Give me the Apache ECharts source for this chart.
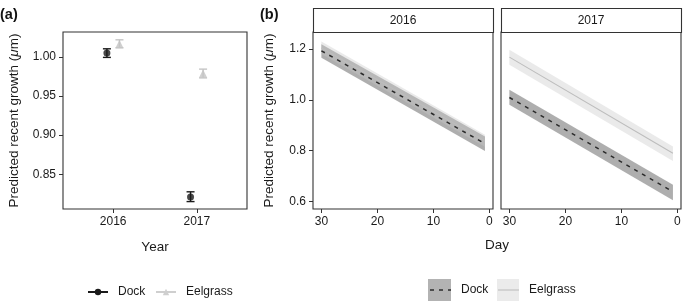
<!DOCTYPE html>
<html><head><meta charset="utf-8">
<script src="https://cdn.jsdelivr.net/npm/echarts@6/dist/echarts.min.js"></script>
<style>html,body{margin:0;padding:0;background:#fff}#c{width:685px;height:302px}</style>
</head><body><div id="c"></div>
<script>
// ---- Panel (a) data ----
const years = [2016, 2017];
const dockMean = [1.005, 0.821];
const dockLo = [0.9995, 0.8150];
const dockHi = [1.0105, 0.8275];
const eelMean = [1.0167, 0.979];
const eelLo = [1.0117, 0.9733];
const eelHi = [1.0220, 0.9845];
const yTicksA = [0.85, 0.90, 0.95, 1.00];
const xTicksA = [2016, 2017];

// ---- Panel (b) data ----
const days = [30, 0.8];
const dock2016 = [1.193, 0.827];
const dock2016Lo = [1.166, 0.798];
const dock2016Hi = [1.219, 0.855];
const eel2016 = [1.204, 0.838];
const eel2016Lo = [1.180, 0.815];
const eel2016Hi = [1.230, 0.862];
const dock2017 = [1.009, 0.638];
const dock2017Lo = [0.980, 0.604];
const dock2017Hi = [1.039, 0.665];
const eel2017 = [1.168, 0.789];
const eel2017Lo = [1.138, 0.759];
const eel2017Hi = [1.197, 0.816];
const yTicksB = [0.6, 0.8, 1.0, 1.2];
const xTicksB = [0, 10, 20, 30];
const strips = ['2016', '2017'];

const DODGE = 0.075;
const FONT = 'Liberation Sans, Arial, sans-serif';
const TXT = '#1a1a1a';
const DOCK_C = '#1a1a1a';
const EEL_C = '#c4c4c4';

const chart = echarts.init(document.getElementById('c'), null, {renderer: 'canvas'});

function errBar(color) {
  return function (params, api) {
    const x = api.value(0), lo = api.value(1), hi = api.value(2);
    const pHi = api.coord([x, hi]);
    const pLo = api.coord([x, lo]);
    const w = 4;
    const st = {stroke: color, lineWidth: 1.4};
    return {type: 'group', children: [
      {type: 'line', shape: {x1: pHi[0], y1: pHi[1], x2: pLo[0], y2: pLo[1]}, style: st},
      {type: 'line', shape: {x1: pHi[0] - w, y1: pHi[1], x2: pHi[0] + w, y2: pHi[1]}, style: st},
      {type: 'line', shape: {x1: pLo[0] - w, y1: pLo[1], x2: pLo[0] + w, y2: pLo[1]}, style: st}
    ]};
  };
}

const gridBox = {show: true, borderColor: '#333', borderWidth: 1.1, backgroundColor: '#fff'};
const tickStyle = {show: true, length: 4, lineStyle: {color: '#333', width: 1}};
const labStyle = {color: TXT, fontSize: 12, fontFamily: FONT};
const noLine = {show: false, onZero: false};
const ytitle = {
  name: 'Predicted recent growth ({i|μ}m)',
  nameLocation: 'middle',
  nameRotate: 90,
  nameTextStyle: {color: TXT, fontSize: 13.5, fontFamily: FONT,
    rich: {i: {fontStyle: 'italic', fontSize: 13.5, fontFamily: FONT, color: TXT}}}
};

function bandSeries(idx, lo, hi, color, z) {
  const data = days.map((d, i) => [d, lo[i], hi[i]]);
  return {
    type: 'custom', xAxisIndex: idx, yAxisIndex: idx, silent: true, z: z, clip: true,
    data: data,
    renderItem: function (params, api) {
      if (params.dataIndex !== 0) return {type: 'group', children: []};
      const pts = [];
      data.forEach(r => pts.push(api.coord([r[0], r[2]])));
      data.slice().reverse().forEach(r => pts.push(api.coord([r[0], r[1]])));
      return {type: 'polygon', shape: {points: pts}, style: {fill: color}};
    }
  };
}

const DOCK_BAND = 'rgba(100,100,100,0.52)';
const EEL_BAND = 'rgba(200,200,200,0.38)';

const series = [
  // panel a
  {type: 'custom', name: 'dockErr', xAxisIndex: 0, yAxisIndex: 0, renderItem: errBar(DOCK_C),
   data: years.map((y, i) => [y - DODGE, dockLo[i], dockHi[i]]), z: 3},
  {type: 'custom', name: 'eelErr', xAxisIndex: 0, yAxisIndex: 0, renderItem: errBar(EEL_C),
   data: years.map((y, i) => [y + DODGE, eelLo[i], eelHi[i]]), z: 3},
  {type: 'scatter', name: 'dockPts', xAxisIndex: 0, yAxisIndex: 0, symbol: 'circle', symbolSize: 7,
   itemStyle: {color: DOCK_C}, data: years.map((y, i) => [y - DODGE, dockMean[i]]), z: 4},
  {type: 'scatter', name: 'eelPts', xAxisIndex: 0, yAxisIndex: 0, symbol: 'triangle', symbolSize: 8,
   itemStyle: {color: EEL_C}, data: years.map((y, i) => [y + DODGE, eelMean[i]]), z: 4},
  // legend-only series for panel a
  {type: 'line', name: 'Dock', xAxisIndex: 0, yAxisIndex: 0, data: [], symbol: 'circle', symbolSize: 6,
   itemStyle: {color: DOCK_C}, lineStyle: {color: DOCK_C, width: 1.6}},
  {type: 'line', name: 'Eelgrass', xAxisIndex: 0, yAxisIndex: 0, data: [], symbol: 'triangle', symbolSize: 6,
   itemStyle: {color: '#cfcfcf'}, lineStyle: {color: '#cfcfcf', width: 1.6}},
  // panel b bands
  bandSeries(1, dock2016Lo, dock2016Hi, DOCK_BAND, 2),
  bandSeries(1, eel2016Lo, eel2016Hi, EEL_BAND, 3),
  bandSeries(2, dock2017Lo, dock2017Hi, DOCK_BAND, 2),
  bandSeries(2, eel2017Lo, eel2017Hi, EEL_BAND, 3),
  // panel b lines
  {type: 'line', name: 'Eelgrass (b)', xAxisIndex: 1, yAxisIndex: 1, symbol: 'none', z: 5,
   lineStyle: {color: '#bdbdbd', width: 1.1}, itemStyle: {color: '#bdbdbd'},
   data: days.map((d, i) => [d, eel2016[i]])},
  {type: 'line', name: 'Dock (b)', xAxisIndex: 1, yAxisIndex: 1, symbol: 'none', z: 6,
   lineStyle: {color: '#2b2b2b', width: 1.5, type: [4, 5]}, itemStyle: {color: '#2b2b2b'},
   data: days.map((d, i) => [d, dock2016[i]])},
  {type: 'line', name: 'Eelgrass (b)', xAxisIndex: 2, yAxisIndex: 2, symbol: 'none', z: 5,
   lineStyle: {color: '#bdbdbd', width: 1.1}, itemStyle: {color: '#bdbdbd'},
   data: days.map((d, i) => [d, eel2017[i]])},
  {type: 'line', name: 'Dock (b)', xAxisIndex: 2, yAxisIndex: 2, symbol: 'none', z: 6,
   lineStyle: {color: '#2b2b2b', width: 1.5, type: [4, 5]}, itemStyle: {color: '#2b2b2b'},
   data: days.map((d, i) => [d, dock2017[i]])}
];

const legendBase = {orient: 'horizontal', selectedMode: false, padding: 0,
  textStyle: {color: TXT, fontSize: 12, fontFamily: FONT, padding: [0, 0, 0, 5]}};

const stripGraphics = [];
const stripX = [313, 501];
strips.forEach((s, i) => {
  stripGraphics.push({type: 'rect', shape: {x: stripX[i] + 0.5, y: 8.5, width: 180, height: 24},
    style: {fill: '#fff', stroke: '#333', lineWidth: 1.1}, z: 10});
  stripGraphics.push({type: 'text', x: stripX[i] + 90, y: 20.5,
    style: {text: s, fill: TXT, font: '12px ' + FONT, textAlign: 'center', textVerticalAlign: 'middle'}, z: 11});
});

const option = {
  animation: false,
  backgroundColor: '#fff',
  grid: [
    Object.assign({left: 63, top: 32, width: 184, height: 177}, gridBox),
    Object.assign({left: 313, top: 32, width: 180, height: 177}, gridBox),
    Object.assign({left: 501, top: 32, width: 180, height: 177}, gridBox)
  ],
  xAxis: [
    {type: 'value', gridIndex: 0, min: 2015.4, max: 2017.6, splitLine: {show: false},
     axisLine: noLine, axisTick: Object.assign({customValues: xTicksA}, tickStyle),
     axisLabel: Object.assign({customValues: xTicksA, margin: 7, formatter: v => String(v)}, labStyle),
     name: 'Year', nameLocation: 'middle', nameGap: 31,
     nameTextStyle: {color: TXT, fontSize: 13.5, fontFamily: FONT}},
    {type: 'value', gridIndex: 1, min: -0.64, max: 31.5, inverse: true, splitLine: {show: false},
     axisLine: noLine, axisTick: Object.assign({customValues: xTicksB}, tickStyle),
     axisLabel: Object.assign({customValues: xTicksB, margin: 7}, labStyle)},
    {type: 'value', gridIndex: 2, min: -0.64, max: 31.5, inverse: true, splitLine: {show: false},
     axisLine: noLine, axisTick: Object.assign({customValues: xTicksB}, tickStyle),
     axisLabel: Object.assign({customValues: xTicksB, margin: 7}, labStyle)}
  ],
  yAxis: [
    Object.assign({type: 'value', gridIndex: 0, min: 0.8055, max: 1.032, splitLine: {show: false},
     axisLine: noLine, axisTick: Object.assign({customValues: yTicksA}, tickStyle),
     axisLabel: Object.assign({customValues: yTicksA, margin: 7, formatter: v => v.toFixed(2)}, labStyle),
     nameGap: 42}, ytitle),
    Object.assign({type: 'value', gridIndex: 1, min: 0.5696, max: 1.267, splitLine: {show: false},
     axisLine: noLine, axisTick: Object.assign({customValues: yTicksB}, tickStyle),
     axisLabel: Object.assign({customValues: yTicksB, margin: 7, formatter: v => v.toFixed(1)}, labStyle),
     nameGap: 37}, ytitle),
    {type: 'value', gridIndex: 2, min: 0.5696, max: 1.267, splitLine: {show: false},
     axisLine: noLine, axisTick: {show: false}, axisLabel: {show: false}}
  ],
  legend: [
    Object.assign({left: 87, top: 286, itemWidth: 20, itemHeight: 8, data: ['Dock']}, legendBase),
    Object.assign({left: 155, top: 286, itemWidth: 20, itemHeight: 8, data: ['Eelgrass']}, legendBase),
    Object.assign({left: 428, top: 279, itemWidth: 23, itemHeight: 22, icon: 'rect',
      itemStyle: {color: '#b3b3b3'}, data: ['Dock (b)'],
      formatter: n => n.replace(' (b)', '')}, legendBase),
    Object.assign({left: 497, top: 279, itemWidth: 22, itemHeight: 22, icon: 'rect',
      itemStyle: {color: '#ebebeb'}, data: ['Eelgrass (b)'],
      formatter: n => n.replace(' (b)', '')}, legendBase)
  ],
  graphic: [
    {type: 'text', x: 0, y: 7, style: {text: '(a)', fill: '#111', font: 'bold 14.5px ' + FONT}},
    {type: 'text', x: 260, y: 7, style: {text: '(b)', fill: '#111', font: 'bold 14.5px ' + FONT}},
    {type: 'text', x: 497, y: 245, style: {text: 'Day', fill: TXT, font: '13.5px ' + FONT,
      textAlign: 'center', textVerticalAlign: 'middle'}},
    {type: 'line', shape: {x1: 429, y1: 290, x2: 451, y2: 290}, z: 100,
      style: {stroke: '#2b2b2b', lineWidth: 1.5, lineDash: [4, 5], lineDashOffset: -1}},
    {type: 'line', shape: {x1: 498, y1: 290, x2: 519, y2: 290}, z: 100,
      style: {stroke: '#bdbdbd', lineWidth: 1.1}},
    ...stripGraphics
  ],
  series: series
};
chart.setOption(option);
</script>
</body></html>
